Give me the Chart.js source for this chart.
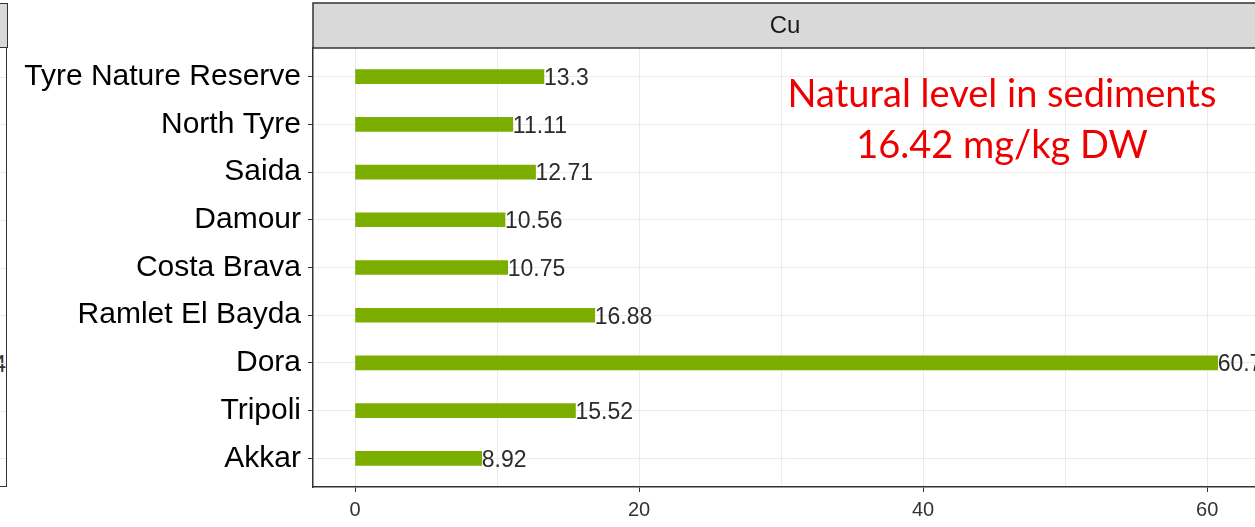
<!DOCTYPE html>
<html>
<head>
<meta charset="utf-8">
<script src="https://cdn.jsdelivr.net/npm/chart.js@4.4.1/dist/chart.umd.min.js"></script>
<style>
  html, body { margin: 0; padding: 0; background: #fff; overflow: hidden; }
  #wrap { position: relative; width: 1255px; height: 527px; overflow: hidden; }
  #c { position: absolute; left: 0; top: 0; }
  .sliver-strip { position: absolute; left: -10px; top: 3px; width: 16px; height: 43px; background: #d9d9d9; border: 1.5px solid #333; }
  .sliver-panel { position: absolute; left: -10px; top: 47px; width: 16px; height: 439px; border-right: 1.5px solid #333; border-bottom: 1.5px solid #333; }
  .sliver-grid { position: absolute; left: 0; width: 6px; height: 1px; background: #ebebeb; }
  .sliver-text { position: absolute; right: 1249px; top: 351px; font: 23px "Liberation Sans", Arial, sans-serif; color: #333; white-space: nowrap; }
  .note { position: absolute; left: 700px; width: 604px; text-align: center; font-family: Lato, "Open Sans", sans-serif; font-size: 38px; color: #ee0000; white-space: nowrap; line-height: 1; }
</style>
</head>
<body>
<div id="wrap">
  <div class="sliver-strip"></div>
  <div class="sliver-panel"></div>
  <div class="sliver-text">4</div>
  <canvas id="c" width="1255" height="527"></canvas>
  <div class="note" style="top:73px">Natural level in sediments</div>
  <div class="note" style="top:124px">16.42 mg/kg DW</div>
</div>
<script>
// ---- data ----
const sites = ["Akkar", "Tripoli", "Dora", "Ramlet El Bayda", "Costa Brava", "Damour", "Saida", "North Tyre", "Tyre Nature Reserve"];
const cuValues = [8.92, 15.52, 60.74, 16.88, 10.75, 10.56, 12.71, 11.11, 13.3];
const valueLabels = ["8.92", "15.52", "60.74", "16.88", "10.75", "10.56", "12.71", "11.11", "13.3"];
const xMajorTicks = [0, 20, 40, 60];
const xAllTicks = [0, 10, 20, 30, 40, 50, 60];
const facetTitle = "Cu";

const wrap = document.getElementById('wrap');
const points = cuValues.map((v, i) => ({ x: v, y: i + 1 }));

const stripPlugin = {
  id: 'strip',
  afterDraw(chart) {
    const ctx = chart.ctx;
    const a = chart.chartArea;
    ctx.save();
    ctx.fillStyle = '#d9d9d9';
    ctx.fillRect(a.left, 3, chart.width - a.left + 10, a.top - 3);
    ctx.strokeStyle = '#333';
    ctx.lineWidth = 1.5;
    ctx.strokeRect(a.left, 3, chart.width - a.left + 10, a.top - 3);
    ctx.fillStyle = '#1a1a1a';
    ctx.font = '24px "Liberation Sans", Arial, sans-serif';
    ctx.textAlign = 'center';
    ctx.textBaseline = 'middle';
    ctx.fillText(facetTitle, (a.left + chart.width + 2) / 2, (3 + a.top) / 2 + 1);
    ctx.restore();
  }
};

const labelPlugin = {
  id: 'vlabels',
  afterDatasetsDraw(chart) {
    const ctx = chart.ctx;
    const meta = chart.getDatasetMeta(0);
    ctx.save();
    ctx.fillStyle = '#2b2b2b';
    ctx.font = '23px "Liberation Sans", Arial, sans-serif';
    ctx.textAlign = 'left';
    ctx.textBaseline = 'middle';
    meta.data.forEach((bar, i) => {
      ctx.fillText(valueLabels[i], bar.x, bar.y + 2);
    });
    ctx.restore();
  }
};

new Chart(document.getElementById('c'), {
  type: 'bar',
  data: {
    datasets: [{
      data: points,
      backgroundColor: '#7cae00',
      borderWidth: 0,
      barThickness: 14
    }]
  },
  options: {
    indexAxis: 'y',
    responsive: false,
    animation: false,
    events: [],
    layout: { padding: { top: 48, right: 0, left: 0, bottom: 0 } },
    plugins: { legend: { display: false }, tooltip: { enabled: false } },
    scales: {
      x: {
        type: 'linear',
        min: -2.96,
        max: 63.37,
        afterBuildTicks(scale) { scale.ticks = xAllTicks.map(v => ({ value: v })); },
        afterFit(scale) { scale.height = 40; },
        grid: {
          color: '#ebebeb',
          lineWidth: 1,
          tickLength: 5,
          tickColor: (c) => (c.tick && xMajorTicks.includes(c.tick.value)) ? '#333' : 'rgba(0,0,0,0)'
        },
        border: { display: true, color: '#333', width: 1.5 },
        ticks: {
          autoSkip: false,
          maxRotation: 0,
          padding: 6,
          color: '#333',
          font: { family: '"Liberation Sans", Arial, sans-serif', size: 20 },
          callback: (v) => xMajorTicks.includes(v) ? String(v) : ''
        }
      },
      y: {
        type: 'linear',
        offset: false,
        min: 0.4,
        max: 9.6,
        afterBuildTicks(scale) { scale.ticks = sites.map((s, i) => ({ value: i + 1 })); },
        afterFit(scale) { scale.width = 313; },
        grid: { offset: false, color: '#ebebeb', lineWidth: 1, tickLength: 5, tickColor: '#333' },
        border: { display: true, color: '#333', width: 1.5 },
        ticks: {
          autoSkip: false,
          padding: 7,
          color: '#000',
          font: { family: '"Liberation Sans", Arial, sans-serif', size: 30 },
          callback: (v) => sites[v - 1] || ''
        }
      }
    }
  },
  plugins: [stripPlugin, labelPlugin]
});

// gridlines of the cut-off left facet
sites.forEach((s, i) => {
  const d = document.createElement('div');
  d.className = 'sliver-grid';
  d.style.top = (48 + (9.6 - (i + 1)) * (439 / 9.2)) + 'px';
  wrap.appendChild(d);
});
</script>
</body>
</html>
